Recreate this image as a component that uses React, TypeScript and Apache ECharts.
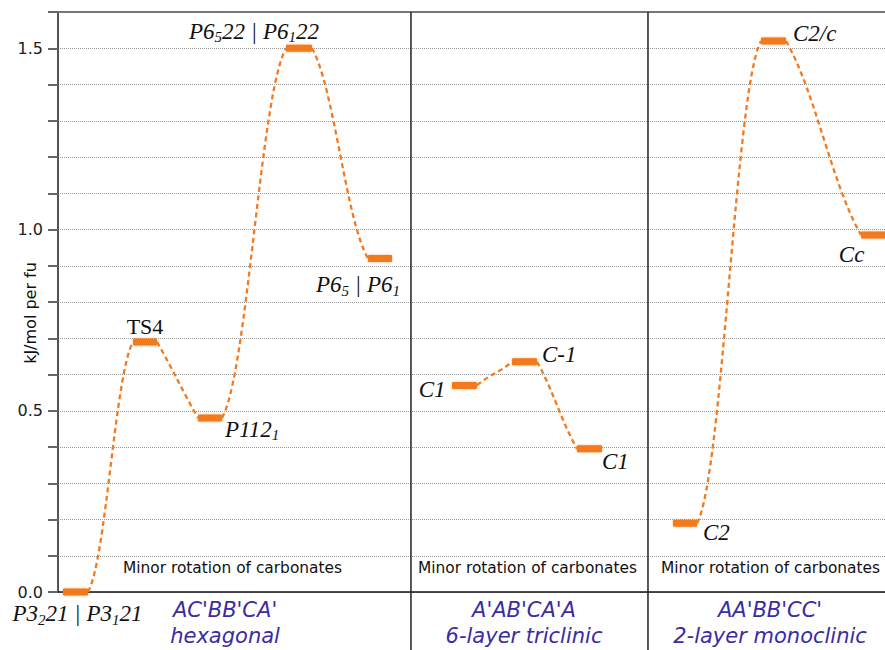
import React, { useEffect, useRef } from "react";
import * as echarts from "echarts";

// ---- data ----
const barStart = [0.6, 9.07, 16.93, 27.57, 37.48, 47.64, 54.9, 62.76, 74.37, 85.01, 97.1];
const barEnd = [3.63, 11.97, 19.83, 30.71, 40.39, 50.66, 57.92, 65.78, 77.27, 88.03, 100.2];
const energies = [0.0, 0.69, 0.48, 1.5, 0.92, 0.57, 0.635, 0.395, 0.19, 1.52, 0.985];
const labelTexts = [
  "{i|P3}{s|2}{i|21 | P3}{s|1}{i|21}",
  "{r|TS4}",
  "{i|P112}{s|1}",
  "{i|P6}{s|5}{i|22 | P6}{s|1}{i|22}",
  "{i|P6}{s|5}{i| | P6}{s|1}",
  "{i|C1}",
  "{i|C-1}",
  "{i|C1}",
  "{i|C2}",
  "{i|C2/c}",
  "{i|Cc}",
];
const transitions = [
  [0, 1],
  [1, 2],
  [2, 3],
  [3, 4],
  [5, 6],
  [6, 7],
  [8, 9],
  [9, 10],
];
const dividers = [42.68, 71.34];
const noteCenters = [21.1, 56.77, 86.16];
const titleCenters = [20.2, 56.35, 86.1];
const sectionStacking = ["AC'BB'CA'", "A'AB'CA'A", "AA'BB'CC'"];
const sectionTypes = ["hexagonal", "6-layer triclinic", "2-layer monoclinic"];
const sectionNote = "Minor rotation of carbonates";
const yTickLabels = ["0.0", "0.5", "1.0", "1.5"];
const yAxisTitle = "kJ/mol per fu";

// ---- layout (not data) ----
const labelPlacement: { dx: number; dy: number; align: string }[] = [
  { dx: 2, dy: 21.5, align: "center" },
  { dx: 0, dy: -15.5, align: "center" },
  { dx: 15, dy: 11, align: "left" },
  { dx: -45, dy: -17, align: "center" },
  { dx: -22, dy: 26, align: "center" },
  { dx: -19, dy: 4, align: "right" },
  { dx: 17.5, dy: -7, align: "left" },
  { dx: 12.5, dy: 13, align: "left" },
  { dx: 18, dy: 9, align: "left" },
  { dx: 19.5, dy: -8, align: "left" },
  { dx: -35, dy: 19.5, align: "left" },
];

const ORANGE = "#f37a1f";
const BLUE = "#3a2ca3";
const SERIF = "Liberation Serif";
const SANS = "DejaVu Sans";

const rich = {
  i: { fontFamily: SERIF, fontStyle: "italic", fontSize: 23, lineHeight: 21, fill: "#111" },
  s: {
    fontFamily: SERIF,
    fontStyle: "italic",
    fontSize: 15,
    lineHeight: 21,
    fill: "#111",
    padding: [12, 0, 0, 0],
  },
  r: { fontFamily: SERIF, fontSize: 22, lineHeight: 21, fill: "#111" },
};

export default function App() {
  const ref = useRef<HTMLDivElement>(null);
  useEffect(() => {
    if (!ref.current) return;
    const chart = echarts.init(ref.current, undefined, { renderer: "svg" });
    const option: any = {
      animation: false,
      textStyle: { fontFamily: SANS },
      grid: { left: 58, right: 0, top: 12, bottom: 58 },
      xAxis: [
        {
          type: "value",
          min: 0,
          max: 100,
          position: "bottom",
          axisLine: { show: true, lineStyle: { color: "#111", width: 1.5 } },
          axisTick: { show: false },
          axisLabel: { show: false },
          splitLine: { show: false },
        },
        {
          type: "value",
          min: 0,
          max: 100,
          position: "top",
          axisLine: { show: true, lineStyle: { color: "#777", width: 2 } },
          axisTick: { show: false },
          axisLabel: { show: false },
          splitLine: { show: false },
        },
      ],
      yAxis: {
        type: "value",
        min: 0,
        max: 1.6,
        interval: 0.1,
        axisLine: { show: true, lineStyle: { color: "#555", width: 2 } },
        axisTick: { show: true, length: 10, lineStyle: { color: "#666", width: 2 } },
        axisLabel: {
          margin: 15,
          fontSize: 16,
          color: "#222",
          fontFamily: SANS,
          formatter: (v: number) => {
            const k = Math.round(v * 10);
            if (k % 5 !== 0) return "";
            return yTickLabels[k / 5] ?? "";
          },
        },
        splitLine: { show: true, lineStyle: { color: "#999", type: "dotted", width: 1 } },
      },
      graphic: [
        {
          type: "text",
          x: 30.5,
          y: 313,
          rotation: Math.PI / 2,
          style: {
            text: yAxisTitle,
            fontFamily: SANS,
            fontSize: 16,
            fill: "#111",
            align: "center",
            verticalAlign: "middle",
          },
        },
      ],
      series: [
        {
          type: "custom",
          name: "dividers",
          xAxisIndex: 0,
          data: dividers.map((d) => [d, 1.6]),
          encode: { x: 0, y: 1 },
          renderItem: (params: any, api: any) => {
            const p = api.coord([api.value(0), api.value(1)]);
            return {
              type: "line",
              shape: { x1: p[0], y1: p[1], x2: p[0], y2: api.getHeight() },
              style: { stroke: "#222", lineWidth: 1.5 },
            };
          },
        },
        {
          type: "custom",
          name: "sections",
          xAxisIndex: 0,
          data: noteCenters.map((c, i) => [c, 0, titleCenters[i], i]),
          encode: { x: 0, y: 1 },
          renderItem: (params: any, api: any) => {
            const i = api.value(3);
            const p = api.coord([api.value(0), api.value(1)]);
            const t = api.coord([api.value(2), api.value(1)]);
            return {
              type: "group",
              children: [
                {
                  type: "text",
                  x: p[0],
                  y: p[1] - 24,
                  style: {
                    text: sectionNote,
                    fontFamily: SANS,
                    fontSize: 15.4,
                    fill: "#111",
                    align: "center",
                    verticalAlign: "middle",
                  },
                },
                {
                  type: "text",
                  x: t[0],
                  y: p[1] + 17.5,
                  style: {
                    text: sectionStacking[i],
                    fontFamily: SANS,
                    fontStyle: "italic",
                    fontSize: 21,
                    fill: BLUE,
                    align: "center",
                    verticalAlign: "middle",
                  },
                },
                {
                  type: "text",
                  x: t[0],
                  y: p[1] + 43.5,
                  style: {
                    text: sectionTypes[i],
                    fontFamily: SANS,
                    fontStyle: "italic",
                    fontSize: 21,
                    fill: BLUE,
                    align: "center",
                    verticalAlign: "middle",
                  },
                },
              ],
            };
          },
        },
        {
          type: "custom",
          name: "paths",
          xAxisIndex: 0,
          data: transitions.map(([a, b]) => [barEnd[a], energies[a], barStart[b], energies[b]]),
          encode: { x: [0, 2], y: [1, 3] },
          renderItem: (params: any, api: any) => {
            const p1 = api.coord([api.value(0), api.value(1)]);
            const p2 = api.coord([api.value(2), api.value(3)]);
            const dx = p2[0] - p1[0];
            const dy = p2[1] - p1[1];
            const ox = 0.4 * dx;
            const oy = Math.sign(dy) * Math.min(Math.abs(dy) * 0.5, ox * 1.75);
            return {
              type: "bezierCurve",
              shape: {
                x1: p1[0],
                y1: p1[1],
                x2: p2[0],
                y2: p2[1],
                cpx1: p1[0] + ox,
                cpy1: p1[1] + oy,
                cpx2: p2[0] - ox,
                cpy2: p2[1] - oy,
              },
              style: { stroke: ORANGE, lineWidth: 2.3, lineDash: [5, 3.5], fill: "none" },
            };
          },
        },
        {
          type: "custom",
          name: "levels",
          xAxisIndex: 0,
          data: barStart.map((s, i) => [s, barEnd[i], energies[i]]),
          encode: { x: [0, 1], y: 2 },
          renderItem: (params: any, api: any) => {
            const a = api.coord([api.value(0), api.value(2)]);
            const b = api.coord([api.value(1), api.value(2)]);
            return {
              type: "rect",
              shape: { x: a[0], y: a[1] - 3.5, width: b[0] - a[0], height: 7, r: 1 },
              style: { fill: ORANGE, shadowBlur: 2, shadowColor: "rgba(243,122,31,0.6)" },
            };
          },
        },
        {
          type: "custom",
          name: "labels",
          xAxisIndex: 0,
          data: energies.map((e, i) => [(barStart[i] + barEnd[i]) / 2, e, i]),
          encode: { x: 0, y: 1 },
          renderItem: (params: any, api: any) => {
            const idx = api.value(2);
            const p = api.coord([api.value(0), api.value(1)]);
            const pl = labelPlacement[idx];
            return {
              type: "text",
              x: p[0] + pl.dx,
              y: p[1] + pl.dy,
              style: {
                text: labelTexts[idx],
                rich,
                fill: "#111",
                align: pl.align,
                verticalAlign: "middle",
              },
            };
          },
        },
      ],
    };
    chart.setOption(option);
    return () => chart.dispose();
  }, []);
  return (
    <div
      ref={ref}
      style={{ position: "fixed", left: 0, top: 0, width: 885, height: 650, background: "#fff" }}
    />
  );
}
